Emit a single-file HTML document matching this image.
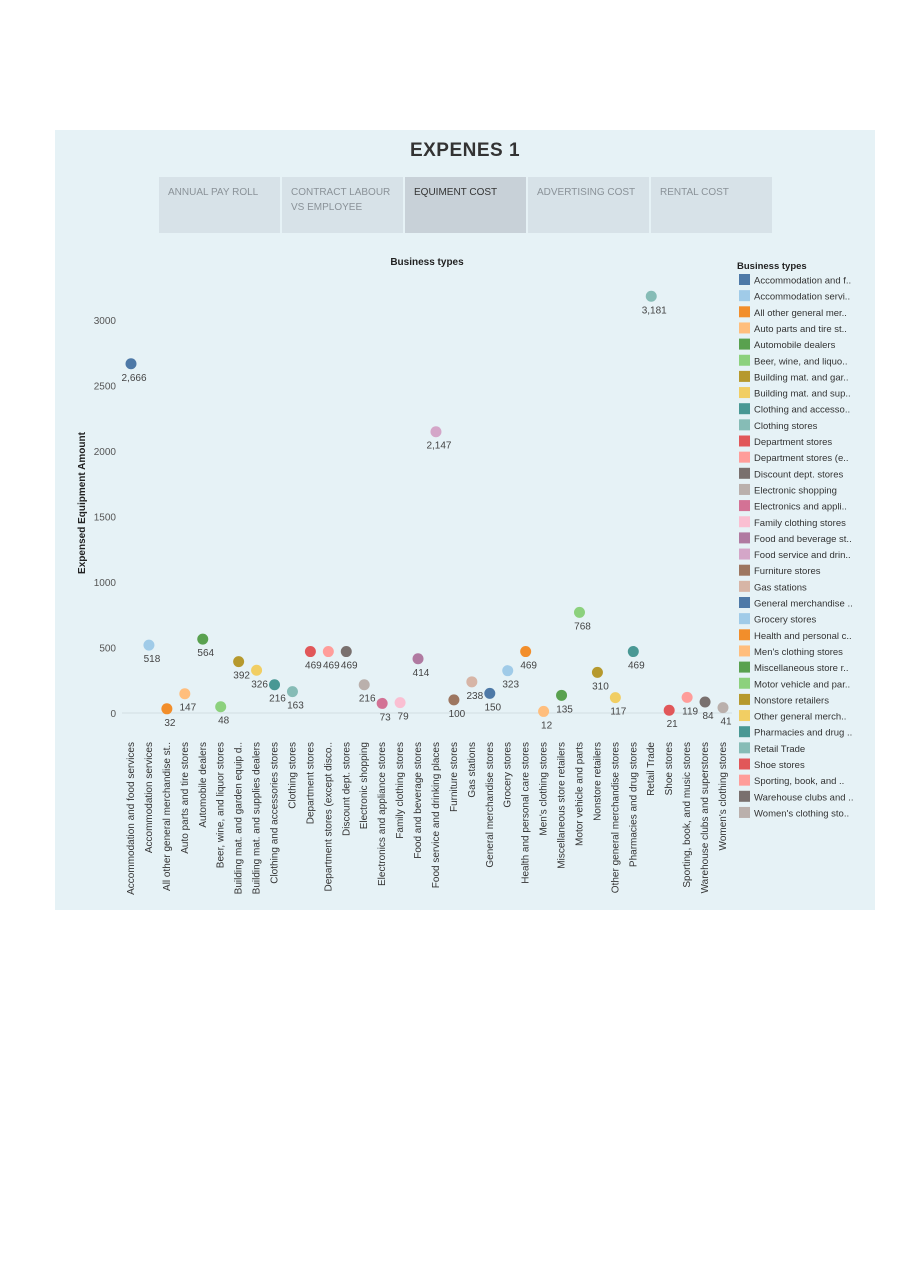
<!DOCTYPE html>
<html><head><meta charset="utf-8"><style>
body{margin:0;width:904px;height:1280px;background:#fff;font-family:"Liberation Sans",sans-serif;position:relative;overflow:hidden}
#panel{position:absolute;left:55px;top:130px;width:820px;height:780px;background:#e6f2f6}
.tab{position:absolute;top:177px;height:56px;width:121px;background:#d7e2e8;color:#8a9298;font-size:10px;line-height:15px;padding:8px 0 0 9px;box-sizing:border-box}
</style></head><body>
<div id="panel"></div>
<div style="position:absolute;left:365px;top:140px;width:200px;text-align:center;font-size:19px;font-weight:bold;color:#333;letter-spacing:0.5px">EXPENES 1</div>
<div class="tab" style="left:159px">ANNUAL PAY ROLL</div>
<div class="tab" style="left:282px">CONTRACT LABOUR<br>VS EMPLOYEE</div>
<div class="tab" style="left:405px;background:#c8d1d8;color:#333">EQUIMENT COST</div>
<div class="tab" style="left:528px">ADVERTISING COST</div>
<div class="tab" style="left:651px">RENTAL COST</div>
<svg id="chart" width="904" height="1280" style="position:absolute;left:0;top:0"></svg>
<script>
const categories=["Accommodation and food services","Accommodation services","All other general merchandise st..","Auto parts and tire stores","Automobile dealers","Beer, wine, and liquor stores","Building mat. and garden equip d..","Building mat. and supplies dealers","Clothing and accessories stores","Clothing stores","Department stores","Department stores (except disco..","Discount dept. stores","Electronic shopping","Electronics and appliance stores","Family clothing stores","Food and beverage stores","Food service and drinking places","Furniture stores","Gas stations","General merchandise stores","Grocery stores","Health and personal care stores","Men's clothing stores","Miscellaneous store retailers","Motor vehicle and parts","Nonstore retailers","Other general merchandise stores","Pharmacies and drug stores","Retail Trade","Shoe stores","Sporting, book, and  music stores","Warehouse clubs and superstores","Women's clothing stores"];
const values=[2666,518,32,147,564,48,392,326,216,163,469,469,469,216,73,79,414,2147,100,238,150,323,469,12,135,768,310,117,469,3181,21,119,84,41];
const legendLabels=["Accommodation and f..","Accommodation servi..","All other general mer..","Auto parts and tire st..","Automobile dealers","Beer, wine, and liquo..","Building mat. and gar..","Building mat. and sup..","Clothing and accesso..","Clothing stores","Department stores","Department stores (e..","Discount dept. stores","Electronic shopping","Electronics and appli..","Family clothing stores","Food and beverage st..","Food service and drin..","Furniture stores","Gas stations","General merchandise ..","Grocery stores","Health and personal c..","Men's clothing stores","Miscellaneous store r..","Motor vehicle and par..","Nonstore retailers","Other general merch..","Pharmacies and drug ..","Retail Trade","Shoe stores","Sporting, book, and ..","Warehouse clubs and ..","Women's clothing sto.."];
const yTicks=[0,500,1000,1500,2000,2500,3000];
const palette=["#4e79a7","#a0cbe8","#f28e2b","#ffbe7d","#59a14f","#8cd17d","#b6992d","#f1ce63","#499894","#86bcb6","#e15759","#ff9d9a","#79706e","#bab0ac","#d37295","#fabfd2","#b07aa1","#d4a6c8","#9d7660","#d7b5a6"];
const svg=document.getElementById('chart');
const NS='http://www.w3.org/2000/svg';
const y=v=>713-v*(393/3000);
const x=i=>131+i*(592/33);
function mk(t,a){const e=document.createElementNS(NS,t);for(const k in a)e.setAttribute(k,a[k]);svg.appendChild(e);return e;}
let t=mk('text',{x:427,y:265,'font-size':10,'font-weight':'bold','text-anchor':'middle',fill:'#222'});t.textContent='Business types';


t=mk('text',{x:85,y:503,'font-size':10,'font-weight':'bold','text-anchor':'middle',fill:'#222',transform:'rotate(-90 85 503)'});t.textContent='Expensed Equipment Amount';


let zl=mk('line',{x1:122,x2:732,y1:y(0),y2:y(0),stroke:'#d3dde2','stroke-width':1});


yTicks.forEach(v=>{const e=mk('text',{x:116,y:y(v)+4,'font-size':10,'text-anchor':'end',fill:'#555'});e.textContent=v;

});
categories.forEach((c,i)=>{const xx=x(i)+3,yy=742;const e=mk('text',{x:xx,y:yy,'font-size':10,'text-anchor':'end',fill:'#333',transform:`rotate(-90 ${xx} ${yy})`});e.textContent=c;

});
values.forEach((v,i)=>{const col=palette[i%20];const p=mk('circle',{cx:x(i),cy:y(v),r:5.5,fill:col});


const l=mk('text',{x:x(i)+3,y:y(v)+17,'font-size':10,'text-anchor':'middle',fill:'#444'});l.textContent=v.toLocaleString('en-US');

});
t=mk('text',{x:737,y:269,'font-size':9.5,'font-weight':'bold',fill:'#222'});t.textContent='Business types';


legendLabels.forEach((s,i)=>{const yy=274+i*16.15;const r=mk('rect',{x:739,y:yy,width:11,height:11,fill:palette[i%20]});


const e=mk('text',{x:754,y:yy+9.5,'font-size':9.5,fill:'#333'});e.textContent=s;

});
</script>
</body></html>
